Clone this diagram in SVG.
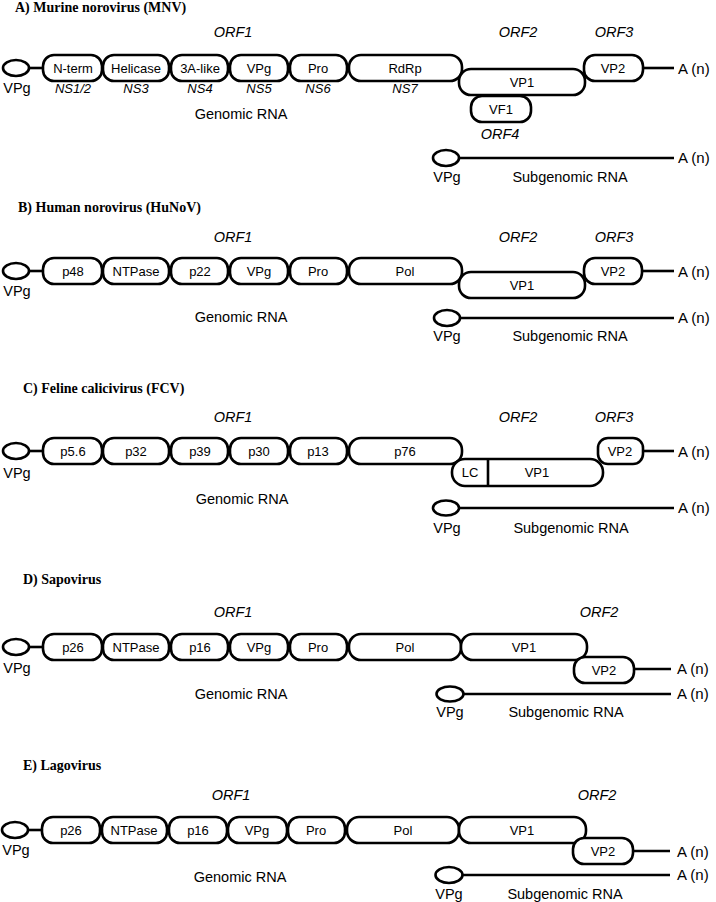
<svg xmlns="http://www.w3.org/2000/svg" width="716" height="902" viewBox="0 0 716 902">
<style>
.b{fill:#fff;stroke:#000;stroke-width:2.6}
.c{stroke:#000;stroke-width:2.6;fill:none}
text{font-family:"Liberation Sans",Arial,sans-serif;fill:#000}
.t{font-size:13px;text-anchor:middle}
.m{font-size:14.5px;text-anchor:middle}
.a{font-size:15px}
.i{font-style:italic}
.h{font-family:"Liberation Serif","Times New Roman",serif;font-weight:bold;font-size:14px}
</style>
<rect width="716" height="902" fill="#fff"/>

<!-- ===== A ===== -->
<text class="h" x="15" y="12">A) Murine norovirus (MNV)</text>
<g id="connA">
<line class="c" x1="29" y1="68" x2="43" y2="68"/>
<line class="c" x1="643" y1="68" x2="674" y2="68"/>
<line class="c" x1="459" y1="158" x2="674" y2="158"/>
</g>
<g id="A-vpg"><ellipse class="b" cx="16" cy="68" rx="13" ry="8"/><text class="m" x="17" y="93">VPg</text></g>
<g id="A-nterm"><rect class="b" x="43" y="55" width="59" height="26" rx="11"/><text class="t" x="73" y="73">N-term</text><text class="t i" x="73" y="93">NS1/2</text></g>
<g id="A-helicase"><rect class="b" x="103" y="55" width="66" height="26" rx="11"/><text class="t" x="136" y="73">Helicase</text><text class="t i" x="136" y="93">NS3</text></g>
<g id="A-3a"><rect class="b" x="171" y="55" width="57" height="26" rx="11"/><text class="t" x="200" y="73">3A-like</text><text class="t i" x="200" y="93">NS4</text></g>
<g id="A-vpgp"><rect class="b" x="230" y="55" width="58" height="26" rx="11"/><text class="t" x="259" y="73">VPg</text><text class="t i" x="259" y="93">NS5</text></g>
<g id="A-pro"><rect class="b" x="290" y="55" width="57" height="26" rx="11"/><text class="t" x="318" y="73">Pro</text><text class="t i" x="318" y="93">NS6</text></g>
<g id="A-rdrp"><rect class="b" x="349" y="55" width="113" height="26" rx="12"/><text class="t" x="405" y="73">RdRp</text><text class="t i" x="405" y="93">NS7</text></g>
<g id="A-vp1"><rect class="b" x="459" y="69" width="126" height="26" rx="12"/><text class="t" x="522" y="87">VP1</text></g>
<g id="A-vf1"><rect class="b" x="471" y="96" width="60" height="26" rx="11"/><text class="t" x="501" y="114">VF1</text><text class="m i" x="500" y="139">ORF4</text></g>
<g id="A-vp2"><rect class="b" x="584" y="55" width="59" height="26" rx="11"/><text class="t" x="613" y="73">VP2</text></g>
<g id="A-labels">
<text class="m i" x="233" y="37">ORF1</text>
<text class="m i" x="518" y="37">ORF2</text>
<text class="m i" x="614" y="37">ORF3</text>
<text class="m" x="241" y="119">Genomic RNA</text>
<text class="a" x="678" y="74">A (n)</text>
</g>
<g id="A-sub"><ellipse class="b" cx="446" cy="158" rx="13" ry="8"/><text class="m" x="447" y="182">VPg</text><text class="m" x="570" y="182">Subgenomic RNA</text><text class="a" x="678" y="163">A (n)</text></g>

<!-- ===== B ===== -->
<text class="h" x="18" y="212">B) Human norovirus (HuNoV)</text>
<g id="connB">
<line class="c" x1="29" y1="271" x2="43" y2="271"/>
<line class="c" x1="642" y1="271" x2="674" y2="271"/>
<line class="c" x1="460" y1="318" x2="674" y2="318"/>
</g>
<g id="B-vpg"><ellipse class="b" cx="16" cy="271" rx="13" ry="8"/><text class="m" x="17" y="296">VPg</text></g>
<g id="B-p48"><rect class="b" x="43" y="258" width="59" height="26" rx="11"/><text class="t" x="73" y="276">p48</text></g>
<g id="B-ntpase"><rect class="b" x="103" y="258" width="66" height="26" rx="11"/><text class="t" x="136" y="276">NTPase</text></g>
<g id="B-p22"><rect class="b" x="171" y="258" width="57" height="26" rx="11"/><text class="t" x="200" y="276">p22</text></g>
<g id="B-vpgp"><rect class="b" x="230" y="258" width="58" height="26" rx="11"/><text class="t" x="259" y="276">VPg</text></g>
<g id="B-pro"><rect class="b" x="290" y="258" width="57" height="26" rx="11"/><text class="t" x="318" y="276">Pro</text></g>
<g id="B-pol"><rect class="b" x="349" y="258" width="113" height="26" rx="12"/><text class="t" x="405" y="276">Pol</text></g>
<g id="B-vp1"><rect class="b" x="459" y="272" width="126" height="26" rx="12"/><text class="t" x="522" y="290">VP1</text></g>
<g id="B-vp2"><rect class="b" x="584" y="258" width="58" height="26" rx="11"/><text class="t" x="613" y="276">VP2</text></g>
<g id="B-labels">
<text class="m i" x="233" y="242">ORF1</text>
<text class="m i" x="518" y="242">ORF2</text>
<text class="m i" x="614" y="242">ORF3</text>
<text class="m" x="241" y="322">Genomic RNA</text>
<text class="a" x="678" y="277">A (n)</text>
</g>
<g id="B-sub"><ellipse class="b" cx="447" cy="318" rx="13" ry="8"/><text class="m" x="447" y="341">VPg</text><text class="m" x="570" y="341">Subgenomic RNA</text><text class="a" x="678" y="323">A (n)</text></g>

<!-- ===== C ===== -->
<text class="h" x="23" y="393">C) Feline calicivirus (FCV)</text>
<g id="connC">
<line class="c" x1="29" y1="451" x2="43" y2="451"/>
<line class="c" x1="643" y1="451" x2="674" y2="451"/>
<line class="c" x1="459" y1="508" x2="674" y2="508"/>
</g>
<g id="C-vpg"><ellipse class="b" cx="16" cy="451" rx="13" ry="8"/><text class="m" x="17" y="478">VPg</text></g>
<g id="C-p56"><rect class="b" x="43" y="438" width="59" height="26" rx="11"/><text class="t" x="73" y="456">p5.6</text></g>
<g id="C-p32"><rect class="b" x="103" y="438" width="66" height="26" rx="11"/><text class="t" x="136" y="456">p32</text></g>
<g id="C-p39"><rect class="b" x="171" y="438" width="57" height="26" rx="11"/><text class="t" x="200" y="456">p39</text></g>
<g id="C-p30"><rect class="b" x="230" y="438" width="58" height="26" rx="11"/><text class="t" x="259" y="456">p30</text></g>
<g id="C-p13"><rect class="b" x="290" y="438" width="57" height="26" rx="11"/><text class="t" x="318" y="456">p13</text></g>
<g id="C-p76"><rect class="b" x="349" y="438" width="113" height="26" rx="12"/><text class="t" x="405" y="456">p76</text></g>
<g id="C-vp1"><rect class="b" x="452" y="459" width="151" height="27" rx="13"/><line class="c" x1="488" y1="459" x2="488" y2="486"/><text class="t" x="470" y="477">LC</text><text class="t" x="537" y="477">VP1</text></g>
<g id="C-vp2"><rect class="b" x="598" y="438" width="45" height="26" rx="10"/><text class="t" x="620" y="456">VP2</text></g>
<g id="C-labels">
<text class="m i" x="233" y="422">ORF1</text>
<text class="m i" x="518" y="422">ORF2</text>
<text class="m i" x="614" y="422">ORF3</text>
<text class="m" x="242" y="504">Genomic RNA</text>
<text class="a" x="678" y="457">A (n)</text>
</g>
<g id="C-sub"><ellipse class="b" cx="446" cy="508" rx="13" ry="7.5"/><text class="m" x="447" y="533">VPg</text><text class="m" x="571" y="533">Subgenomic RNA</text><text class="a" x="678" y="513">A (n)</text></g>

<!-- ===== D ===== -->
<text class="h" x="23" y="584">D) Sapovirus</text>
<g id="connD">
<line class="c" x1="29" y1="647" x2="43" y2="647"/>
<line class="c" x1="634" y1="669" x2="671" y2="669"/>
<line class="c" x1="464" y1="694" x2="671" y2="694"/>
</g>
<g id="D-vpg"><ellipse class="b" cx="16" cy="647" rx="13" ry="8"/><text class="m" x="17" y="673">VPg</text></g>
<g id="D-p26"><rect class="b" x="43" y="634" width="59" height="26" rx="11"/><text class="t" x="73" y="652">p26</text></g>
<g id="D-ntpase"><rect class="b" x="103" y="634" width="66" height="26" rx="11"/><text class="t" x="136" y="652">NTPase</text></g>
<g id="D-p16"><rect class="b" x="171" y="634" width="57" height="26" rx="11"/><text class="t" x="200" y="652">p16</text></g>
<g id="D-vpgp"><rect class="b" x="230" y="634" width="58" height="26" rx="11"/><text class="t" x="259" y="652">VPg</text></g>
<g id="D-pro"><rect class="b" x="290" y="634" width="57" height="26" rx="11"/><text class="t" x="318" y="652">Pro</text></g>
<g id="D-pol"><rect class="b" x="349" y="634" width="112" height="26" rx="12"/><text class="t" x="405" y="652">Pol</text></g>
<g id="D-vp1"><rect class="b" x="461" y="634" width="126" height="26" rx="12"/><text class="t" x="524" y="652">VP1</text></g>
<g id="D-vp2"><rect class="b" x="574" y="657" width="60" height="26" rx="11"/><text class="t" x="604" y="675">VP2</text></g>
<g id="D-labels">
<text class="m i" x="233" y="617">ORF1</text>
<text class="m i" x="599" y="617">ORF2</text>
<text class="m" x="241" y="699">Genomic RNA</text>
<text class="a" x="677" y="674">A (n)</text>
</g>
<g id="D-sub"><ellipse class="b" cx="450" cy="694" rx="13.5" ry="7.5"/><text class="m" x="450" y="717">VPg</text><text class="m" x="566" y="717">Subgenomic RNA</text><text class="a" x="677" y="699">A (n)</text></g>

<!-- ===== E ===== -->
<text class="h" x="23" y="770">E) Lagovirus</text>
<g id="connE">
<line class="c" x1="28" y1="830" x2="42" y2="830"/>
<line class="c" x1="633" y1="851" x2="670" y2="851"/>
<line class="c" x1="463" y1="875" x2="670" y2="875"/>
</g>
<g id="E-vpg"><ellipse class="b" cx="15" cy="830" rx="13" ry="8"/><text class="m" x="16" y="855">VPg</text></g>
<g id="E-p26"><rect class="b" x="42" y="817" width="58" height="26" rx="11"/><text class="t" x="71" y="835">p26</text></g>
<g id="E-ntpase"><rect class="b" x="102" y="817" width="65" height="26" rx="11"/><text class="t" x="134" y="835">NTPase</text></g>
<g id="E-p16"><rect class="b" x="169" y="817" width="58" height="26" rx="11"/><text class="t" x="198" y="835">p16</text></g>
<g id="E-vpgp"><rect class="b" x="228" y="817" width="59" height="26" rx="11"/><text class="t" x="257" y="835">VPg</text></g>
<g id="E-pro"><rect class="b" x="288" y="817" width="57" height="26" rx="11"/><text class="t" x="316" y="835">Pro</text></g>
<g id="E-pol"><rect class="b" x="347" y="817" width="112" height="26" rx="12"/><text class="t" x="403" y="835">Pol</text></g>
<g id="E-vp1"><rect class="b" x="459" y="817" width="127" height="26" rx="12"/><text class="t" x="522" y="835">VP1</text></g>
<g id="E-vp2"><rect class="b" x="573" y="838" width="60" height="26" rx="11"/><text class="t" x="603" y="856">VP2</text></g>
<g id="E-labels">
<text class="m i" x="231" y="800">ORF1</text>
<text class="m i" x="597" y="800">ORF2</text>
<text class="m" x="240" y="882">Genomic RNA</text>
<text class="a" x="677" y="857">A (n)</text>
</g>
<g id="E-sub"><ellipse class="b" cx="449" cy="875" rx="13.5" ry="8"/><text class="m" x="449" y="899">VPg</text><text class="m" x="565" y="899">Subgenomic RNA</text><text class="a" x="677" y="880">A (n)</text></g>
</svg>
